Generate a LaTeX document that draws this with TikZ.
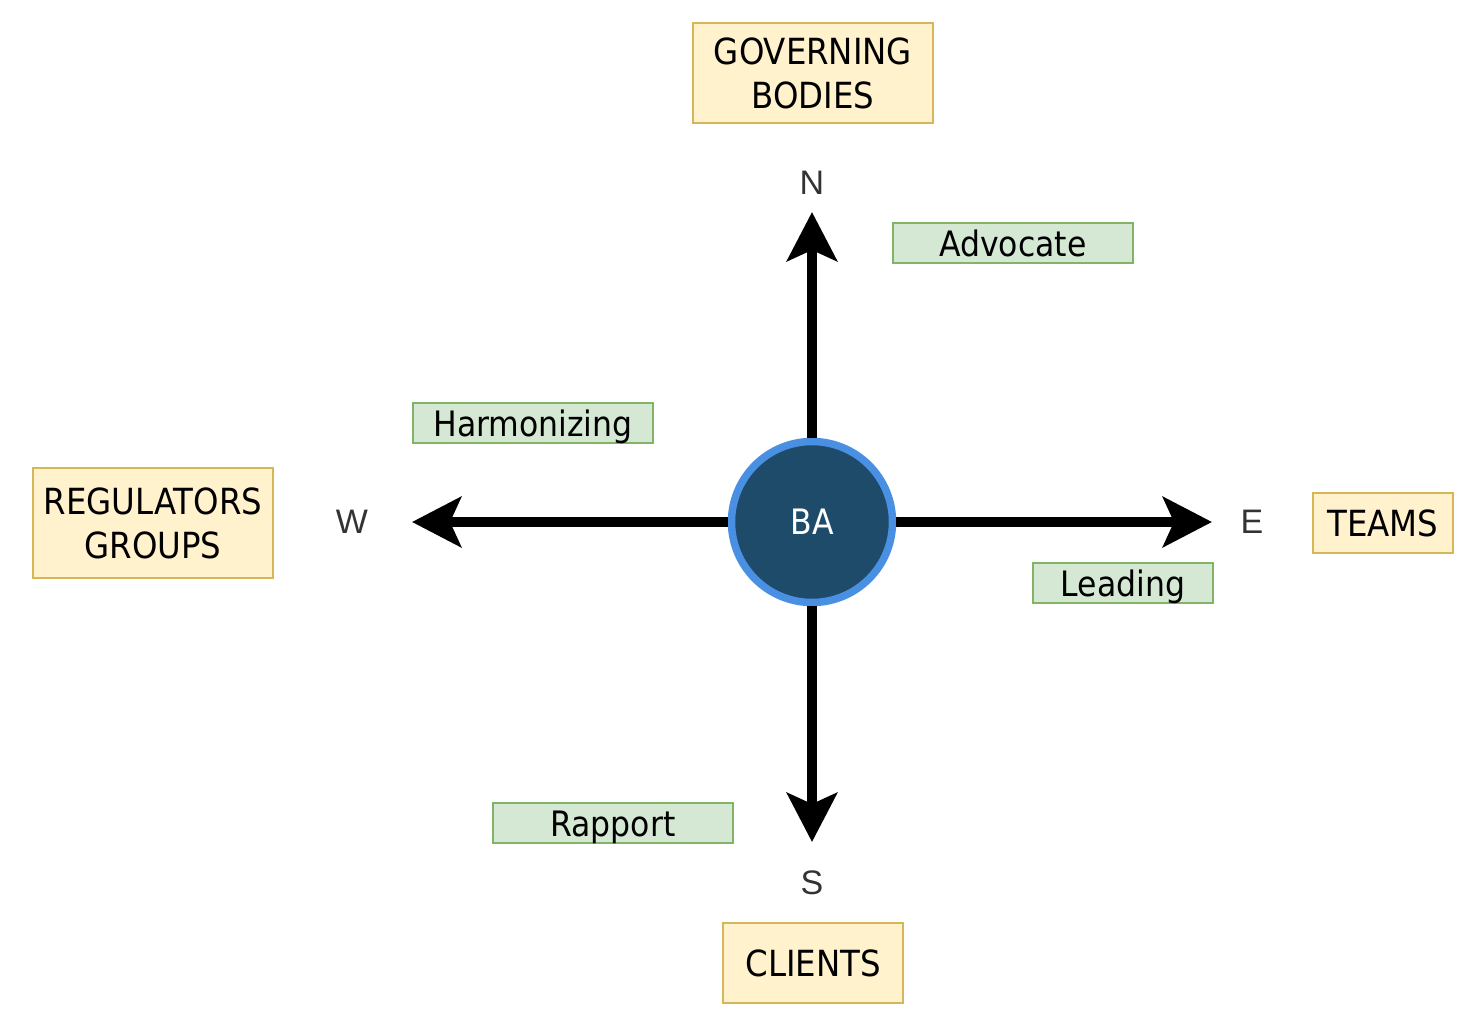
\documentclass[tikz,border=0pt]{standalone}
\usepackage{fontspec}
\setmainfont{DejaVu Sans Condensed}
\newfontfamily\dirfont{Liberation Sans}
\usetikzlibrary{arrows.meta}
\definecolor{yfill}{HTML}{FFF2CC}
\definecolor{ydraw}{HTML}{D6B656}
\definecolor{gfill}{HTML}{D5E8D4}
\definecolor{gdraw}{HTML}{82B366}
\definecolor{bafill}{HTML}{1E4B6A}
\definecolor{badraw}{HTML}{4A90E2}
\definecolor{dirgrey}{HTML}{333333}
\tikzset{
  ybox/.style={draw=ydraw, fill=yfill, line width=2pt, inner sep=0pt, align=center,
    font=\fontsize{36}{44}\selectfont},
  gbox/.style={draw=gdraw, fill=gfill, line width=2pt, inner sep=0pt, align=center,
    text height=26pt, text depth=0pt, font=\fontsize{35}{40}\selectfont},
  dirlabel/.style={text=dirgrey, inner sep=0pt, font=\dirfont\fontsize{34}{38}\selectfont},
  bigarrow/.style={line width=10pt, -{Stealth[length=49pt, width=50pt, inset=11pt]}},
}
\begin{document}
\begin{tikzpicture}[x=1pt, y=-1pt]
\useasboundingbox (0,0) rectangle (1474,1028);
% centre
\node (ba) [circle, draw=badraw, fill=bafill, line width=7.5pt, minimum size=161pt, inner sep=0pt,
  text=white, font=\fontsize{35}{38}\selectfont] at (812,522) {BA};
% arrow tips
\coordinate (ntip) at (812,212);
\coordinate (wtip) at (412,522);
\coordinate (etip) at (1212,522);
\coordinate (stip) at (812,842);
\draw[bigarrow] (ba.north) -- (ntip);
\draw[bigarrow] (ba.west) -- (wtip);
\draw[bigarrow] (ba.east) -- (etip);
\draw[bigarrow] (ba.south) -- (stip);
% direction letters
\node (nl) [dirlabel] at (812,183) {N};
\node (wl) [dirlabel] at (352,522) {W};
\node (el) [dirlabel] at (1252,522) {E};
\node (sl) [dirlabel] at (812,883) {S};
% yellow boxes
\node (gov) [ybox, minimum width=240pt, minimum height=100pt] at (813,73) {GOVERNING\\BODIES};
\node (reg) [ybox, minimum width=240pt, minimum height=110pt] at (153,523) {REGULATORS\\GROUPS};
\node (teams) [ybox, minimum width=140pt, minimum height=60pt] at (1383,523) {TEAMS};
\node (clients) [ybox, minimum width=180pt, minimum height=80pt] at (813,963) {CLIENTS};
% green boxes
\node (adv) [gbox, minimum width=240pt, minimum height=40pt] at (1013,243) {Advocate};
\node (harm) [gbox, minimum width=240pt, minimum height=40pt] at (533,423) {Harmonizing};
\node (lead) [gbox, minimum width=180pt, minimum height=40pt] at (1123,583) {Leading};
\node (rap) [gbox, minimum width=240pt, minimum height=40pt] at (613,823) {Rapport};
\end{tikzpicture}
\end{document}
